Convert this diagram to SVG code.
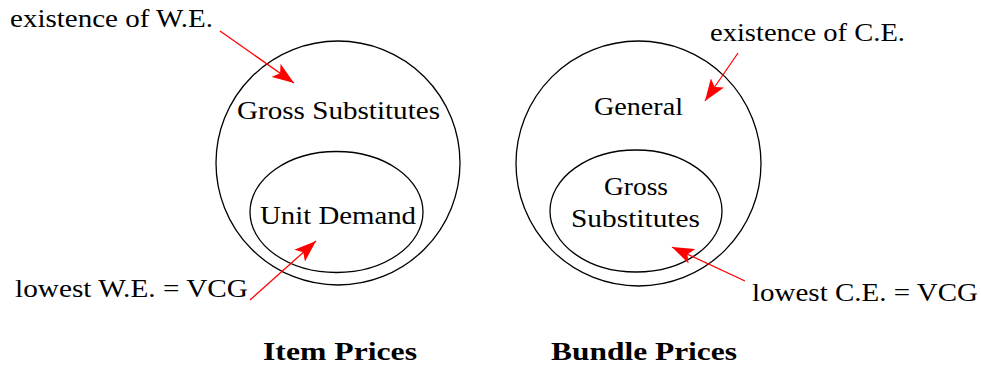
<svg xmlns="http://www.w3.org/2000/svg" width="981" height="367" viewBox="0 0 981 367">
<defs>
<style>
text{font-family:"Liberation Serif","Times New Roman",serif;font-size:25px;fill:#000}
.b{font-weight:bold}
.shape{fill:none;stroke:#000;stroke-width:1.3}
.arr{stroke:#ff0000;stroke-width:1.3;fill:none}
</style>
<marker id="ah" viewBox="0 0 22 16" refX="22" refY="8" markerWidth="22" markerHeight="16" markerUnits="userSpaceOnUse" orient="auto">
<path d="M0,0 L22,8 L0,16 L5,8 Z" fill="#ff0000"/>
</marker>
</defs>
<rect width="981" height="367" fill="#fff"/>
<g id="item-outer">
<circle class="shape" cx="338" cy="163" r="122"/>
<text x="237" y="119" textLength="203" lengthAdjust="spacingAndGlyphs">Gross Substitutes</text>
</g>
<g id="item-inner">
<ellipse class="shape" cx="336.5" cy="212" rx="86.5" ry="60.5"/>
<text x="260" y="224" textLength="156" lengthAdjust="spacingAndGlyphs">Unit Demand</text>
</g>
<g id="bundle-outer">
<circle class="shape" cx="638.5" cy="163.5" r="122.5"/>
<text x="594" y="115" textLength="89" lengthAdjust="spacingAndGlyphs">General</text>
</g>
<g id="bundle-inner">
<ellipse class="shape" cx="636" cy="211" rx="86" ry="61"/>
<text x="604" y="195" textLength="64" lengthAdjust="spacingAndGlyphs">Gross</text>
<text x="571" y="227" textLength="129" lengthAdjust="spacingAndGlyphs">Substitutes</text>
</g>
<g id="labels">
<text x="10" y="27" textLength="203" lengthAdjust="spacingAndGlyphs">existence of W.E.</text>
<text x="15" y="297" textLength="233" lengthAdjust="spacingAndGlyphs">lowest W.E. = VCG</text>
<text x="710" y="41" textLength="195" lengthAdjust="spacingAndGlyphs">existence of C.E.</text>
<text x="752" y="301" textLength="226" lengthAdjust="spacingAndGlyphs">lowest C.E. = VCG</text>
<text class="b" x="263" y="360" textLength="154" lengthAdjust="spacingAndGlyphs">Item Prices</text>
<text class="b" x="551" y="360" textLength="186" lengthAdjust="spacingAndGlyphs">Bundle Prices</text>
</g>
<g id="connectors">
<line class="arr" x1="220" y1="31" x2="294" y2="83" marker-end="url(#ah)"/>
<line class="arr" x1="250" y1="300" x2="316" y2="241" marker-end="url(#ah)"/>
<line class="arr" x1="738" y1="53" x2="705" y2="101" marker-end="url(#ah)"/>
<line class="arr" x1="745" y1="281" x2="672" y2="247" marker-end="url(#ah)"/>
</g>
</svg>
